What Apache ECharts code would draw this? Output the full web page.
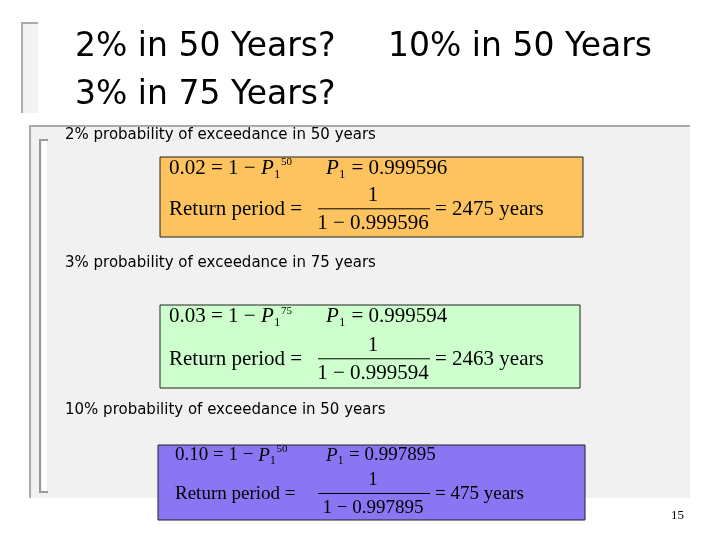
<!DOCTYPE html><html><head><meta charset="utf-8">
<script src="https://cdn.jsdelivr.net/npm/echarts@6/dist/echarts.min.js"></script>
<style>html,body{margin:0;padding:0;background:#fff}#c{width:720px;height:540px}</style></head><body><div id="c"></div>
<script>
const probs=['0.02','0.03','0.10'];
const pctLabels=['2%','3%','10%'];
const years=[50,75,50];
const p1=['0.999596','0.999594','0.997895'];
const returnPeriods=[2475,2463,475];
const boxColors=['#fcc35f','#ccffcc','#8a76f2'];
const boxTops=[157,305,445];
const labelYs=[135,263,410];
const boxHeights=[80,83,75];

const g=[];
const tf="'Comic Sans MS','DejaVu Sans',sans-serif";
const sf="'Liberation Serif','DejaVu Serif',serif";
g.push({type:'rect',shape:{x:22,y:23,width:16,height:90},style:{fill:'#f2f2f2'}});
g.push({type:'polyline',shape:{points:[[38,23],[22,23],[22,113]]},style:{stroke:'#aaa',lineWidth:2,fill:null}});
[['2% in 50 Years?',75,47],['10% in 50 Years',388,47],['3% in 75 Years?',75,95]].forEach(t=>g.push({type:'text',x:t[1],y:t[2],style:{text:t[0],font:'33px '+tf,fill:'#000',textVerticalAlign:'middle'}}));
g.push({type:'rect',shape:{x:30,y:125,width:660,height:373},style:{fill:'#f1f1f1'}});
g.push({type:'line',shape:{x1:30,y1:126,x2:690,y2:126},style:{stroke:'#aaa',lineWidth:2}});
g.push({type:'line',shape:{x1:30,y1:125,x2:30,y2:498},style:{stroke:'#aaa',lineWidth:2}});
g.push({type:'polyline',shape:{points:[[48,140],[40,140],[40,492],[48,492]]},style:{stroke:'#999',lineWidth:2,fill:null}});
g.push({type:'rect',shape:{x:42,y:141,width:5,height:350},style:{fill:'#fff'}});
for(let i=0;i<3;i++){
  const y0=boxTops[i],h=boxHeights[i],x0=i==2?158:160,w=i==2?427:(i==1?420:423);
  const fs=i==2?19:21;
  const xs=i==2?175:169;
  g.push({type:'text',x:65,y:labelYs[i],style:{text:pctLabels[i]+' probability of exceedance in '+years[i]+' years',font:'15px '+tf,fill:'#000',textVerticalAlign:'middle'}});
  g.push({type:'rect',shape:{x:x0,y:y0,width:w,height:h},style:{fill:boxColors[i],stroke:'#222',lineWidth:1}});
  const l1=y0+h*0.14,l2=y0+h*0.66;
  g.push({type:'text',x:xs,y:l1,style:{rich:{n:{font:fs+'px '+sf,fill:'#000'},it:{font:'italic '+fs+'px '+sf,fill:'#000'},s:{font:'11px '+sf,fill:'#000',verticalAlign:'top',padding:[0,0,12,0]}},text:'{n|'+probs[i]+' = 1 − }{it|P}{n|₁}{s|'+years[i]+'}',textVerticalAlign:'middle'}});
  g.push({type:'text',x:326,y:l1,style:{rich:{n:{font:fs+'px '+sf,fill:'#000'},it:{font:'italic '+fs+'px '+sf,fill:'#000'}},text:'{it|P}{n|₁ = '+p1[i]+'}',textVerticalAlign:'middle'}});
  g.push({type:'text',x:xs,y:l2,style:{text:'Return period =',font:fs+'px '+sf,fill:'#000',textVerticalAlign:'middle'}});
  g.push({type:'text',x:373,y:l2-14,style:{text:'1',font:fs+'px '+sf,fill:'#000',textAlign:'center',textVerticalAlign:'middle'}});
  g.push({type:'line',shape:{x1:318,y1:l2-1,x2:430,y2:l2-1},style:{stroke:'#000',lineWidth:1}});
  g.push({type:'text',x:373,y:l2+14,style:{text:'1 − '+p1[i],font:fs+'px '+sf,fill:'#000',textAlign:'center',textVerticalAlign:'middle'}});
  g.push({type:'text',x:435,y:l2,style:{text:'= '+returnPeriods[i]+' years',font:fs+'px '+sf,fill:'#000',textVerticalAlign:'middle'}});
}
g.push({type:'text',x:684,y:516,style:{text:'15',font:'13px '+sf,fill:'#000',textAlign:'right',textVerticalAlign:'middle'}});
const ch=echarts.init(document.getElementById('c'));
ch.setOption({animation:false,graphic:g});
</script></body></html>
